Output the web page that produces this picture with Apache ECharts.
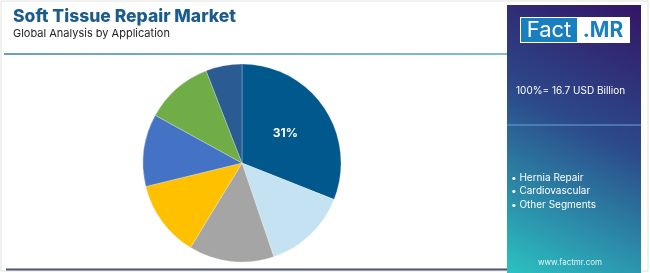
<!DOCTYPE html>
<html>
<head>
<meta charset="utf-8">
<script src="https://cdn.jsdelivr.net/npm/echarts@6/dist/echarts.min.js"></script>
<style>
  html, body { margin: 0; padding: 0; background: #fff; }
  #chart { width: 650px; height: 273px; }
</style>
</head>
<body>
<div id="chart"></div>
<script>
// application segments, clockwise from 12 o'clock
const categories = ['Hernia Repair', 'Cardiovascular', 'Orthopedic', 'Dental', 'Breast Reconstruction', 'Skin Repair', 'Other Segments'];
const shares = [31, 13.8, 13.9, 12.5, 11.8, 11.1, 5.9];
const colors = ['#01588c', '#c5e2f3', '#a5a5a5', '#ffc000', '#4472c4', '#70ad47', '#2a5b93'];
const legendItems = ['Hernia Repair', 'Cardiovascular', 'Other Segments'];
const totalText = '100%= 16.7 USD Billion';

const chart = echarts.init(document.getElementById('chart'));

const pieData = categories.map((name, i) => ({
    name: name,
    value: shares[i],
    itemStyle: { color: colors[i] },
    label: { show: i === 0 }
}));

const panelGradient = new echarts.graphic.LinearGradient(1, 0, 0, 1, [
    { offset: 0, color: '#341566' },
    { offset: 0.45, color: '#2c4a8a' },
    { offset: 1, color: '#2bc2c2' }
]);

chart.setOption({
    backgroundColor: '#fff',
    animation: false,
    title: [
        { text: 'Soft Tissue Repair Market', left: 8, top: 3,
          textStyle: { fontFamily: 'Inter', fontWeight: 800, fontSize: 17.5, color: '#1b5b8e' } },
        { text: 'Global Analysis by Application', left: 8, top: 23,
          textStyle: { fontFamily: 'Inter', fontWeight: 'normal', fontSize: 11, color: '#222' } }
    ],
    graphic: [
        // outer border
        { type: 'rect', shape: { x: 1, y: 1, width: 647, height: 270 }, style: { fill: 'none', stroke: '#e2e2e2', lineWidth: 1 }, z: 0 },
        // header rule
        { type: 'line', shape: { x1: 4, y1: 54, x2: 508, y2: 54 },
          style: { stroke: new echarts.graphic.LinearGradient(0, 0, 1, 0, [
              { offset: 0, color: '#3f7ea8' }, { offset: 1, color: '#5aa5c0' }]), lineWidth: 1.5 } },
        // bottom rule
        { type: 'line', shape: { x1: 6, y1: 269.5, x2: 508, y2: 269.5 }, style: { stroke: '#4b5566', lineWidth: 2 } },
        // right panel
        { type: 'rect', shape: { x: 507, y: 5, width: 134, height: 268 }, style: { fill: panelGradient }, z: 1 },
        { type: 'rect', shape: { x: 520, y: 17, width: 110, height: 26 }, style: { fill: '#fff' }, z: 2 },
        { type: 'rect', shape: { x: 521, y: 18, width: 56, height: 24 }, style: { fill: '#1a7fbe' }, z: 3 },
        { type: 'text', x: 549, y: 30, style: { text: 'Fact', fill: '#fff', font: '22px Inter', align: 'center', verticalAlign: 'middle' }, z: 4 },
        { type: 'text', x: 603, y: 31, style: { text: '.MR', fill: '#1a7fbe', font: 'bold 21px Inter', align: 'center', verticalAlign: 'middle' }, z: 4 },
        { type: 'text', x: 516, y: 91, style: { text: totalText, fill: '#fff', font: '10px Inter', verticalAlign: 'middle' }, z: 4 },
        { type: 'line', shape: { x1: 507, y1: 125, x2: 641, y2: 125 }, style: { stroke: '#6aa6d6', lineWidth: 1 }, z: 4 },
        { type: 'text', x: 511, y: 191, style: { text: legendItems.map(s => '\u2022 ' + s).join('\n'), fill: '#fff', font: '10px Inter', lineHeight: 13.5, verticalAlign: 'middle' }, z: 4 },
        { type: 'text', x: 570, y: 263, style: { text: 'www.factmr.com', fill: '#e6f2f5', font: '8px Inter', align: 'center', verticalAlign: 'middle' }, z: 4 }
    ],
    series: [{
        type: 'pie',
        center: [242, 163],
        radius: [0, 99],
        startAngle: 90,
        clockwise: true,
        data: pieData,
        itemStyle: { borderColor: 'rgba(255,255,255,0.5)', borderWidth: 0.5 },
        label: {
            position: 'inside',
            formatter: p => Math.round(p.percent) + '%',
            color: '#fff',
            fontFamily: 'Inter',
            fontWeight: 'bold',
            fontSize: 12
        },
        labelLine: { show: false },
        emphasis: { disabled: true }
    }]
});
</script>
</body>
</html>
